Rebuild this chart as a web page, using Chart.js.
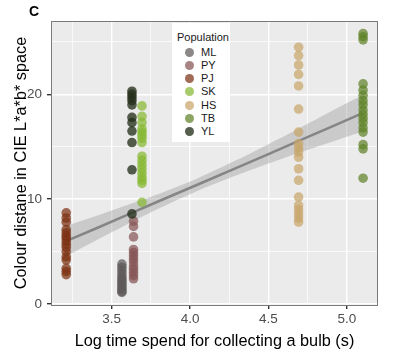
<!DOCTYPE html>
<html>
<head>
  <style>
    body { margin: 0; background: #fff; }
    .chart-container {
      position: relative;
      width: 400px;
      height: 353px;
      font-family: "Liberation Sans", Arial, sans-serif;
    }
    #panelTag { position: absolute; left: 29px; top: 3px; font-size: 14px; line-height: 16px; font-weight: bold; }
    #legend {
      position: absolute; left: 172px; top: 23px; width: 58px; height: 119px;
      background: #fff; font-size: 11px; color: #1a1a1a;
    }
    #legend .title { position: absolute; left: 5px; top: 7px; line-height: 14px; }
    #legend .item { position: absolute; left: 0; width: 58px; height: 13px; line-height: 13px; }
    #legend .dot { position: absolute; left: 13px; top: 2px; width: 9px; height: 9px; border-radius: 50%; }
    #legend .label { position: absolute; left: 29px; top: 0; }
  </style>
  <script src="https://cdn.jsdelivr.net/npm/chart.js"></script>
</head>
<body>
  <div class="chart-container">
    <canvas id="bulbChart" width="400" height="353"></canvas>
    <div id="panelTag">C</div>
    <div id="legend"><div class="title">Population</div></div>
  </div>

  <script>
    // populations, their x position (log time) and colour distances
    const groups = ['ML', 'PY', 'PJ', 'SK', 'HS', 'TB', 'YL'];
    const groupColors = [
      'rgba(95, 90, 90, 0.72)',
      'rgba(135, 85, 85, 0.72)',
      'rgba(125, 50, 20, 0.72)',
      'rgba(135, 185, 50, 0.72)',
      'rgba(200, 165, 105, 0.72)',
      'rgba(95, 130, 40, 0.72)',
      'rgba(35, 45, 25, 0.77)'
    ];
    const groupX = [3.566, 3.640, 3.211, 3.694, 4.692, 5.103, 3.630];

    const mlValues = [3.8, 3.5, 3.2, 2.9, 2.6, 2.4, 2.2, 2.0, 1.8, 1.6, 1.4, 1.2, 1.1];
    const pyValues = [7.9, 7.4, 6.4, 5.2, 4.9, 4.6, 4.3, 4.0, 3.6, 3.3, 3.0, 2.7, 2.4];
    const pjValues = [8.7, 8.2, 7.8, 7.1, 6.8, 6.5, 6.3, 6.0, 5.7, 5.4, 5.0, 4.5, 4.2, 3.4, 3.1, 2.8];
    const skValues = [18.9, 17.9, 17.3, 16.7, 16.4, 16.1, 15.8, 15.4, 14.1, 13.7, 13.3, 12.9, 12.5, 12.1, 11.8, 11.5, 9.7];
    const hsValues = [24.5, 23.7, 22.8, 21.9, 20.8, 18.6, 16.4, 15.3, 14.9, 14.5, 14.0, 12.9, 11.8, 10.2, 9.4, 9.0, 8.6, 8.2, 7.8];
    const tbValues = [25.8, 25.5, 25.2, 21.0, 20.4, 19.9, 19.4, 19.0, 18.5, 18.1, 17.7, 17.3, 16.8, 16.4, 15.2, 14.8, 12.0];
    const ylValues = [20.3, 20.0, 19.7, 19.4, 19.0, 17.8, 17.3, 16.5, 15.4, 12.8, 8.6];
    const groupValues = [mlValues, pyValues, pjValues, skValues, hsValues, tbValues, ylValues];

    // fitted line with its confidence band
    const fitX = [3.21, 3.4, 3.6, 3.8, 4.05, 4.3, 4.5, 4.7, 4.9, 5.10];
    const fitY = [6.0, 7.2, 8.5, 9.8, 11.4, 13.0, 14.3, 15.6, 16.9, 18.2];
    const bandLow = [4.55, 6.05, 7.6, 9.1, 10.8, 12.3, 13.4, 14.45, 15.45, 16.45];
    const bandHigh = [7.45, 8.4, 9.45, 10.5, 12.0, 13.75, 15.25, 16.8, 18.4, 19.95];

    // axis ticks
    const xMajor = [3.5, 4.0, 4.5, 5.0];
    const xMinor = [3.25, 3.75, 4.25, 4.75];
    const yMajor = [0, 10, 20];
    const yMinor = [5, 15, 25];

    Chart.defaults.font.family = '"Liberation Sans", Arial, sans-serif';

    // build the html legend
    const legend = document.getElementById('legend');
    groups.forEach((g, i) => {
      const item = document.createElement('div');
      item.className = 'item';
      item.style.top = (22.5 + i * 13.33) + 'px';
      item.innerHTML = '<span class="dot" style="background:' + groupColors[i] + '"></span><span class="label">' + g + '</span>';
      legend.appendChild(item);
    });

    const panelPlugin = {
      id: 'panel',
      beforeDraw(chart) {
        const { ctx, chartArea: a } = chart;
        ctx.save();
        ctx.fillStyle = '#ebebeb';
        ctx.fillRect(a.left, a.top, a.right - a.left, a.bottom - a.top);
        ctx.restore();
      },
      afterDraw(chart) {
        const { ctx, chartArea: a } = chart;
        ctx.save();
        ctx.strokeStyle = '#7a7a7a';
        ctx.lineWidth = 1;
        ctx.strokeRect(a.left + 0.5, a.top + 0.5, a.right - a.left - 1, a.bottom - a.top);
        ctx.restore();
      }
    };

    function gridOpts(major) {
      return {
        color: '#ffffff',
        lineWidth: c => (c.tick && major.includes(c.tick.value)) ? 1.4 : 0.7,
        tickColor: c => (c.tick && major.includes(c.tick.value)) ? '#333333' : 'rgba(0,0,0,0)',
        tickLength: 4,
        drawTicks: true
      };
    }

    const pointSets = groups.map((g, i) => ({
      label: g,
      data: groupValues[i].map(v => ({ x: groupX[i], y: v })),
      backgroundColor: groupColors[i],
      borderWidth: 0,
      pointRadius: 4.8,
      pointHoverRadius: 4.8,
      order: groups.length - i
    }));

    const bandSets = [
      {
        type: 'line',
        label: 'low',
        data: fitX.map((x, i) => ({ x: x, y: bandLow[i] })),
        borderColor: 'transparent',
        pointRadius: 0,
        showLine: true,
        fill: false,
        tension: 0.3,
        order: 30
      },
      {
        type: 'line',
        label: 'high',
        data: fitX.map((x, i) => ({ x: x, y: bandHigh[i] })),
        borderColor: 'transparent',
        backgroundColor: 'rgba(153, 153, 153, 0.4)',
        pointRadius: 0,
        showLine: true,
        fill: '-1',
        tension: 0.3,
        order: 29
      },
      {
        type: 'line',
        label: 'fit',
        data: fitX.map((x, i) => ({ x: x, y: fitY[i] })),
        borderColor: '#858585',
        borderWidth: 2.5,
        pointRadius: 0,
        showLine: true,
        fill: false,
        order: 28
      }
    ];

    const ctx = document.getElementById('bulbChart').getContext('2d');
    new Chart(ctx, {
      type: 'scatter',
      data: { datasets: bandSets.concat(pointSets) },
      options: {
        responsive: false,
        animation: false,
        layout: { padding: { top: 21, right: 22, left: 0, bottom: 0 } },
        plugins: { legend: { display: false }, tooltip: { enabled: false } },
        scales: {
          x: {
            type: 'linear',
            min: 3.114,
            max: 5.198,
            afterBuildTicks: s => { s.ticks = xMajor.concat(xMinor).sort().map(v => ({ value: v })); },
            afterFit: s => { s.height = 48; },
            grid: gridOpts(xMajor),
            border: { display: false },
            ticks: {
              color: '#4d4d4d',
              font: { size: 13.5 },
              padding: 2,
              autoSkip: false,
              maxRotation: 0,
              callback: v => xMajor.includes(v) ? v.toFixed(1) : ''
            },
            title: {
              display: true,
              text: 'Log time spend for collecting a bulb (s)',
              color: '#000',
              font: { size: 16.3 },
              padding: { top: 0, bottom: 2 }
            }
          },
          y: {
            type: 'linear',
            min: -0.1,
            max: 27.0,
            afterBuildTicks: s => { s.ticks = yMajor.concat(yMinor).sort((a, b) => a - b).map(v => ({ value: v })); },
            afterFit: s => { s.width = 51; },
            grid: gridOpts(yMajor),
            border: { display: false },
            ticks: {
              color: '#4d4d4d',
              font: { size: 13.5 },
              padding: 5,
              autoSkip: false,
              callback: v => yMajor.includes(v) ? String(v) : ''
            },
            title: {
              display: true,
              text: 'Colour distane in CIE L*a*b* space',
              color: '#000',
              font: { size: 16.3 },
              padding: { top: 12, bottom: 0 }
            }
          }
        }
      },
      plugins: [panelPlugin]
    });
  </script>
</body>
</html>
